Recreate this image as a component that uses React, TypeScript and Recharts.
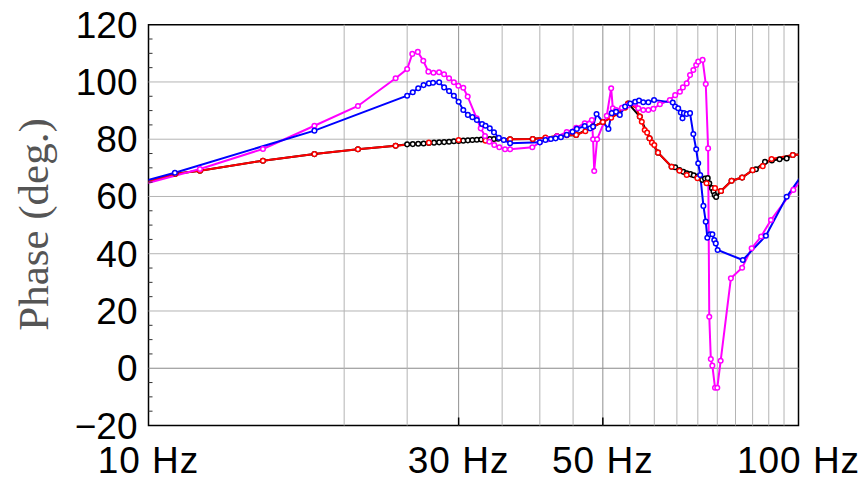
import React from 'react';
import { LineChart, Line, XAxis, YAxis, ReferenceLine, ReferenceArea, Label } from 'recharts';

const xTicks = [10, 30, 50, 100];
const xTickLabels = ['10 Hz', '30 Hz', '50 Hz', '100 Hz'];
const yTicks = [-20, -15, -10, -5, 0, 5, 10, 15, 20, 25, 30, 35, 40, 45, 50, 55, 60, 65, 70, 75, 80, 85, 90, 95, 100, 105, 110, 115, 120];
const yGrid = [0, 20, 40, 60, 80, 100];
const xGrid = [20, 25, 30, 35, 40, 45, 50, 55, 60, 65, 70, 75, 80, 85, 90, 95];

const blackFreq = [9.6, 11, 12, 15, 18, 21, 24, 25, 25.5, 26, 26.5, 27, 27.5, 28, 28.5, 29, 29.5, 30, 30.5, 31, 31.5, 32, 32.5, 33, 33.5, 34, 34.5, 36, 39, 42.5, 45.5, 48.3, 50, 52.8, 54.7, 57, 59, 60.8, 63.8, 64.6, 65.6, 66.5, 67.3, 68.2, 69, 70, 70.6, 71.1, 71.8, 72.5, 72.9, 73.6, 74.0, 74.3, 74.7, 76, 78.9, 81.9, 85, 86, 88.8, 91, 93.5, 95.9, 98, 102];
const blackPhase = [64.0, 67.9, 69.0, 72.5, 74.8, 76.5, 77.7, 78.2, 78.3, 78.4, 78.5, 78.7, 78.8, 78.9, 79.0, 79.1, 79.3, 79.4, 79.5, 79.6, 79.7, 79.8, 79.9, 80.0, 80.1, 80.1, 80.2, 80.0, 80.1, 81.0, 81.5, 84.4, 86.0, 89.0, 92.5, 87.9, 80.3, 75.3, 70.4, 70.2, 69.2, 68.6, 68.1, 67.8, 67.4, 67.0, 66.9, 65.8, 66.3, 66.4, 64.6, 62.9, 61.7, 60.5, 59.8, 61.9, 65.5, 66.6, 69.2, 69.5, 72.1, 72.6, 73.0, 73.3, 74.5, 74.8];

const redFreq = [9.6, 11, 12, 15, 18, 21, 24, 27, 30, 33, 36, 39, 40.8, 42.5, 44, 45.5, 47, 48.3, 50, 51.5, 52.8, 54.1, 54.7, 56, 57, 57.4, 58, 58.5, 59, 59.5, 60, 60.8, 63.8, 65.6, 67.3, 69.9, 72.2, 74.4, 76, 78.9, 81.9, 85, 88.1, 90.9, 98, 102];
const redPhase = [64.0, 67.9, 69.0, 72.5, 74.8, 76.5, 77.7, 78.8, 79.7, 79.5, 80.0, 80.1, 80.6, 81.0, 81.4, 81.5, 82.8, 84.4, 86.0, 87.5, 89.0, 91.0, 92.5, 92.0, 87.9, 86.1, 83.2, 82.3, 80.3, 78.8, 78.0, 75.3, 70.4, 69.0, 67.5, 66.4, 64.6, 62.9, 61.9, 65.5, 66.6, 69.2, 70.6, 73.1, 74.5, 74.8];

const blueFreq = [9.6, 10.98, 18, 25, 25.5, 26, 26.5, 27, 27.4, 28, 28.5, 29, 29.5, 30, 30.5, 31, 31.5, 32, 32.6, 33, 33.5, 34, 34.6, 35.2, 36, 40, 40.8, 41.6, 42.3, 43.1, 44, 44.9, 45.6, 46.9, 47.8, 48.3, 48.9, 51.0, 51.6, 52.4, 53.1, 54.1, 55.1, 56.06, 56.85, 57.7, 58.75, 59.95, 64.05, 64.6, 65.3, 65.9, 66.3, 66.65, 67.3, 68.1, 68.9, 69.6, 70.1, 70.6, 71.4, 72.0, 72.4, 73.1, 73.7, 74.2, 74.6, 75.1, 82.1, 89.1, 95.9, 102];
const bluePhase = [64.7, 68.3, 83.0, 95.2, 96.4, 97.8, 98.9, 99.5, 99.7, 99.9, 98.1, 96.8, 95.2, 93.1, 90.2, 88.5, 87.7, 86.7, 85.3, 84.7, 83.8, 82.4, 80.5, 79.7, 78.6, 78.9, 79.7, 80.1, 80.3, 80.7, 81.5, 82.6, 83.6, 84.6, 83.8, 84.4, 88.8, 83.6, 89.1, 89.6, 88.5, 91.4, 92.5, 93.1, 93.5, 92.9, 92.9, 93.7, 92.8, 91.4, 90.8, 89.3, 87.3, 89.1, 88.8, 89.1, 81.8, 76.5, 71.6, 67.5, 56.7, 51.2, 45.6, 46.8, 46.8, 44.8, 43.6, 41.3, 37.8, 46.3, 59.9, 68.6];

const magentaFreq = [9.6, 12, 15, 18, 21, 24, 25, 25.46, 25.96, 26.47, 26.95, 27.44, 27.99, 28.49, 29.0, 29.5, 29.97, 30.5, 30.98, 31.98, 32.44, 32.94, 33.45, 34.04, 34.65, 35.36, 36.0, 38.95, 40.0, 41.2, 42.5, 44, 45.5, 46.9, 48.1, 48.3, 48.5, 49.0, 50.7, 51.5, 51.8, 52.4, 53.5, 54.6, 56.06, 56.7, 57.7, 58.75, 59.8, 61.2, 63.4, 64.6, 65.7, 66.4, 67.3, 68.1, 68.9, 69.6, 70.1, 71.2, 72.0, 72.6, 72.9, 73.3, 73.7, 74.4, 75.0, 75.9, 78.7, 81.9, 84.7, 87.6, 90.7, 98.2, 102];
const magentaPhase = [63.7, 69.6, 76.6, 84.7, 91.6, 101.3, 104.5, 109.8, 110.5, 107.4, 103.6, 103.2, 103.4, 102.7, 101.3, 99.9, 98.7, 98.0, 94.9, 87.3, 83.8, 81.1, 79.1, 78.0, 77.2, 76.5, 76.5, 77.2, 78.9, 80.0, 81.0, 82.5, 84.0, 85.6, 86.7, 80.0, 68.9, 80.0, 88.2, 97.8, 90.8, 90.2, 91.0, 91.8, 92.5, 90.8, 90.2, 90.2, 90.6, 92.2, 93.7, 95.4, 96.6, 98.1, 99.5, 102.4, 104.2, 105.9, 107.1, 107.7, 99.3, 76.8, 18.0, 3.2, 0.9, -6.8, -6.8, 2.6, 31.4, 35.1, 41.9, 46.0, 51.8, 62.3, 67.0];

const toData = (f: number[], v: number[]) => f.map((x, i) => ({ f: x, v: v[i] }));

const series = [
  { name: 'black', color: '#000000', data: toData(blackFreq, blackPhase) },
  { name: 'red', color: '#ff0000', data: toData(redFreq, redPhase) },
  { name: 'magenta', color: '#ff00ff', data: toData(magentaFreq, magentaPhase) },
  { name: 'blue', color: '#0000ff', data: toData(blueFreq, bluePhase) },
];

const FONT = '"Liberation Sans", Arial, sans-serif';

const XTick = (props: any) => {
  const { x, y, payload } = props;
  const idx = xTicks.indexOf(payload.value);
  const label = idx >= 0 ? xTickLabels[idx] : '';
  const inner = payload.value !== 10 && payload.value !== 100;
  return (
    <g>
      {inner && <line x1={x} y1={y} x2={x} y2={y - 8} stroke="#000" strokeWidth={1.5} />}
      <text x={x} y={y + 47} textAnchor="middle" fontFamily={FONT} fontSize={37} letterSpacing={1} fill="#000">
        {label}
      </text>
    </g>
  );
};

const YTick = (props: any) => {
  const { x, y, payload } = props;
  const v = payload.value;
  const major = v % 20 === 0;
  const txt = v < 0 ? '\u2212' + Math.abs(v) : String(v);
  return (
    <g>
      {!major && <line x1={x} y1={y} x2={x + 4} y2={y} stroke="#333" strokeWidth={1} />}
      {major && (
        <text x={x - 11} y={y + 13} textAnchor="end" fontFamily={FONT} fontSize={37} fill="#000">
          {txt}
        </text>
      )}
    </g>
  );
};

export default function App() {
  return (
    <div style={{ position: 'absolute', left: 0, top: 0, width: 867, height: 479, background: '#fff' }}>
      <LineChart width={867} height={479} margin={{ top: 24.7, right: 68.5, bottom: 3.5, left: 48.5 }}>
        <XAxis
          type="number"
          dataKey="f"
          scale="log"
          domain={[10, 100]}
          allowDataOverflow
          ticks={xTicks}
          tick={<XTick />}
          tickLine={false}
          tickSize={0}
          tickMargin={0}
          axisLine={false}
          height={50}
          interval={0}
        />
        <YAxis
          type="number"
          dataKey="v"
          domain={[-20, 120]}
          allowDataOverflow
          ticks={yTicks}
          tick={<YTick />}
          tickLine={false}
          tickSize={0}
          tickMargin={0}
          axisLine={false}
          width={100}
          interval={0}
        >
          <Label
            content={() => (
              <text
                x={48}
                y={224.5}
                transform="rotate(-90 48 224.5)"
                textAnchor="middle"
                fontFamily='"Liberation Serif", "Times New Roman", serif'
                fontSize={43}
                fill="#555"
              >
                Phase (deg.)
              </text>
            )}
          />
        </YAxis>
        {yGrid.map((g) => (
          <ReferenceLine key={'y' + g} y={g} stroke={g === 0 ? '#888' : '#b4b4b4'} strokeWidth={1} />
        ))}
        {xGrid.map((g) => (
          <ReferenceLine key={'x' + g} x={g} stroke={g === 30 || g === 50 ? '#909090' : '#b4b4b4'} strokeWidth={1} />
        ))}
        {series.map((s) => (
          <Line
            key={s.name}
            data={s.data}
            dataKey="v"
            type="linear"
            stroke={s.color}
            strokeWidth={2}
            dot={{ r: 2.3, stroke: s.color, strokeWidth: 1.5, fill: '#fff' }}
            isAnimationActive={false}
          />
        ))}
        <ReferenceArea x1={10} x2={100} y1={-20} y2={120} fill="none" fillOpacity={0} stroke="#000" strokeWidth={1.5} />
      </LineChart>
    </div>
  );
}
